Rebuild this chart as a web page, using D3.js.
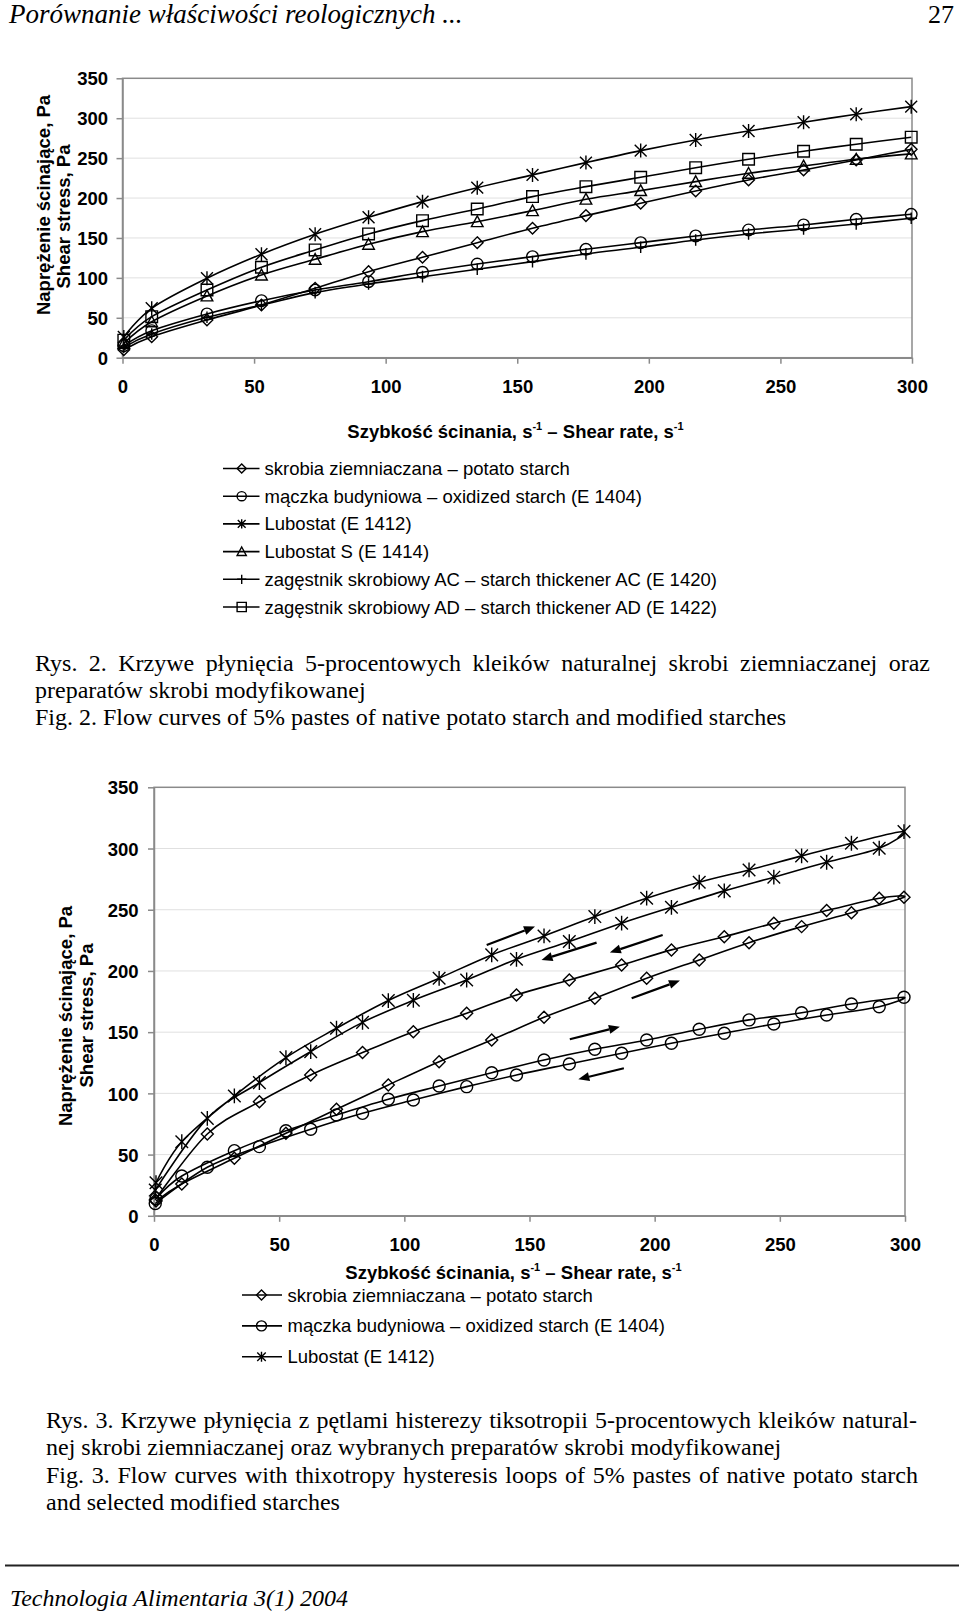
<!DOCTYPE html>
<html><head><meta charset="utf-8">
<script src="https://cdn.jsdelivr.net/npm/d3@7"></script>
<style>body{margin:0;background:#fff}svg{display:block}</style>
</head><body>
<script>
// ---------------- DATA ----------------
const headerTitle = "Porównanie właściwości reologicznych ...";
const pageNumber = "27";
const footerText = "Technologia Alimentaria 3(1) 2004";

const xTicks = [0, 50, 100, 150, 200, 250, 300];
const yTicks = [0, 50, 100, 150, 200, 250, 300, 350];

// Fig. 2 – shear rate (s-1)
const c1X = [0.5, 11.1, 32.1, 52.8, 73.2, 93.5, 114, 134.8, 155.8, 176.1, 196.9, 217.8, 237.9, 258.8, 278.8, 299.7];
const c1Potato = [10, 26.3, 47.2, 66, 87, 107.8, 125.8, 144.1, 162.2, 178, 193.5, 208.9, 222.7, 235.2, 247.7, 261];
const c1Oxidized = [15, 33.8, 54.8, 71.4, 84.8, 95.2, 107, 117.4, 126.6, 135.8, 144.1, 152.5, 160, 166.3, 173.4, 179.7];
const c1Lubostat = [26, 61.9, 99.5, 129.6, 154.6, 175.9, 195.5, 213, 229, 244.4, 259.4, 272.8, 284, 295, 305, 314.5];
const c1LubostatS = [18, 45, 77.3, 103.6, 123.3, 142.1, 157.9, 170.4, 184.2, 198.5, 209.3, 220.6, 231, 240.2, 248.6, 255.3];
const c1ThickAC = [13, 29.7, 50.6, 66, 81.5, 92.4, 101.5, 110.8, 120.3, 130, 138.3, 147.5, 155, 161.3, 167.5, 174.7];
const c1ThickAD = [22, 51.4, 84.8, 113.3, 135, 155, 171.7, 186.3, 201.8, 214.3, 226, 238, 248.6, 258.6, 267.4, 276.2];
const c1Labels = [
  "skrobia ziemniaczana – potato starch",
  "mączka budyniowa – oxidized starch (E 1404)",
  "Lubostat (E 1412)",
  "Lubostat S (E 1414)",
  "zagęstnik skrobiowy AC – starch thickener AC (E 1420)",
  "zagęstnik skrobiowy AD – starch thickener AD (E 1422)"
];
const c1Markers = ["diamond", "circle", "star", "triangle", "plus", "square"];

// Fig. 3 – hysteresis loops: up curve then down curve
const c2UpX = [0.8, 11.1, 32.1, 52.7, 72.9, 93.6, 113.9, 134.9, 155.8, 176.1, 196.8, 217.8, 237.7, 258.7, 278.6, 299.6];
const c2DownX = [289.7, 268.7, 247.6, 227.8, 206.7, 186.8, 165.9, 144.8, 124.9, 103.6, 83.3, 62.6, 42.1, 21.3, 0.5];
const c2PotatoUp = [12, 26, 47, 67.4, 87, 106.9, 125.9, 143.6, 162.2, 177.7, 194, 209, 223.1, 236.2, 247.6, 260.2];
const c2PotatoDown = [259.4, 249.3, 239, 228, 217.2, 204.9, 192.6, 180.4, 165.4, 150.4, 133.3, 115, 93.2, 66.8, 13];
const c2OxidizedUp = [14, 32.5, 53.2, 69.5, 82.4, 95.2, 106, 116.9, 127.3, 136, 143.6, 152.4, 160, 165.9, 173, 178.5];
const c2OxidizedDown = [170.8, 164, 156.7, 149.1, 140.9, 132.8, 124, 115, 105.5, 94.6, 83.7, 70.7, 56.5, 39.6, 10];
const c2LubostatUp = [27, 60.5, 97.9, 129.2, 153.2, 175.8, 194, 213.1, 228.6, 244.4, 259.4, 272.5, 282.5, 294, 304.3, 313.8];
const c2LubostatDown = [300.2, 288.8, 276.6, 265.4, 252, 239, 224, 209.5, 192.6, 176, 158, 134.1, 108.8, 79.6, 21];
const c2Labels = [
  "skrobia ziemniaczana – potato starch",
  "mączka budyniowa – oxidized starch (E 1404)",
  "Lubostat (E 1412)"
];
const c2Markers = ["diamond", "circle", "star"];

// direction arrows of Fig. 3 (data units: start -> end)
const arrowX1 = [132.9, 176.8, 203.2, 190.8, 166.1, 187.7];
const arrowY1 = [221.2, 223.1, 229.4, 177.7, 144.2, 120.5];
const arrowX2 = [152.2, 154.8, 182.1, 210.1, 186.1, 169.5];
const arrowY2 = [236.2, 209.0, 215.0, 192.1, 154.5, 111.5];

const yTitle1 = "Naprężenie ścinające, Pa";
const yTitle2 = "Shear stress, Pa";
const xTitleA = "Szybkość ścinania, s";
const xTitleB = " – Shear rate, s";
const xTitleSup = "-1";

const caption1 = [
  "Rys. 2. Krzywe płynięcia 5-procentowych kleików naturalnej skrobi ziemniaczanej oraz",
  "preparatów skrobi modyfikowanej",
  "Fig. 2. Flow curves of 5% pastes of native potato starch and modified starches"
];
const caption2 = [
  "Rys. 3. Krzywe płynięcia z pętlami histerezy tiksotropii 5-procentowych kleików natural-",
  "nej skrobi ziemniaczanej oraz wybranych preparatów skrobi modyfikowanej",
  "Fig. 3. Flow curves with thixotropy hysteresis loops of 5% pastes of native potato starch",
  "and selected modified starches"
];

// ---------------- DRAWING ----------------
const W = 960, H = 1614;
const SANS = "'Liberation Sans', Arial, sans-serif";
const SERIF = "'Liberation Serif', 'Times New Roman', serif";
const AXIS = "#8a8a8a";

const svg = d3.select("body").append("svg").attr("width", W).attr("height", H);
svg.append("rect").attr("width", W).attr("height", H).attr("fill", "#fff");

function markerPath(type, r) {
  switch (type) {
    case "diamond": return `M0,${-r}L${r},0L0,${r}L${-r},0Z`;
    case "circle": return `M${r},0A${r},${r} 0 1,1 ${-r},0A${r},${r} 0 1,1 ${r},0Z`;
    case "square": return `M${-r},${-r}H${r}V${r}H${-r}Z`;
    case "triangle": return `M0,${-r}L${r},${r * 0.85}L${-r},${r * 0.85}Z`;
    case "plus": return `M0,${-r}V${r}M${-r},0H${r}`;
    case "star": { const d = r * 0.85; return `M0,${-r}V${r}M${-d},${-d}L${d},${d}M${-d},${d}L${d},${-d}`; }
  }
}

// header
svg.append("text").attr("x", 9).attr("y", 23).attr("font-family", SERIF).attr("font-style", "italic")
  .attr("font-size", 27).text(headerTitle);
svg.append("text").attr("x", 954).attr("y", 23).attr("text-anchor", "end").attr("font-family", SERIF)
  .attr("font-size", 26).text(pageNumber);

function drawFrame(g, x, y, xPad, yPad) {
  g.append("g").selectAll("line").data(yTicks.filter(v => v > 0 && v < 350)).join("line")
    .attr("x1", x(0)).attr("x2", x(300)).attr("y1", d => y(d)).attr("y2", d => y(d))
    .attr("stroke", "#e0e0e0").attr("stroke-width", 1);
  g.append("rect").attr("x", x(0)).attr("y", y(350)).attr("width", x(300) - x(0)).attr("height", y(0) - y(350))
    .attr("fill", "none").attr("stroke", AXIS).attr("stroke-width", 1.5);
  const ax = g.append("g").attr("transform", `translate(0,${y(0)})`)
    .call(d3.axisBottom(x).tickValues(xTicks).tickSize(6).tickPadding(xPad).tickSizeOuter(0));
  const ay = g.append("g").attr("transform", `translate(${x(0)},0)`)
    .call(d3.axisLeft(y).tickValues(yTicks).tickSize(6).tickPadding(yPad).tickSizeOuter(0));
  [ax, ay].forEach(a => {
    a.select(".domain").attr("stroke", AXIS).attr("stroke-width", 1.5);
    a.selectAll(".tick line").attr("stroke", AXIS).attr("stroke-width", 1.5);
    a.selectAll("text").attr("font-family", SANS).attr("font-size", 18.5).attr("font-weight", "bold").attr("fill", "#000");
  });
  ay.selectAll("text").attr("dy", "0.36em");
}

function drawSeries(g, x, y, xs, ys, type, r) {
  const pts = xs.map((v, i) => [v, ys[i]]);
  const line = d3.line().x(d => x(d[0])).y(d => y(d[1])).curve(d3.curveCardinal.tension(0));
  g.append("path").attr("d", line(pts)).attr("fill", "none").attr("stroke", "#000").attr("stroke-width", 1.6);
  g.append("g").selectAll("path").data(pts).join("path")
    .attr("transform", d => `translate(${x(d[0])},${y(d[1])})`)
    .attr("d", markerPath(type, r)).attr("fill", "none").attr("stroke", "#000").attr("stroke-width", 1.4);
}

function yTitle(g, b1, c1, b2, c2) {
  g.append("text").attr("transform", `translate(${b1},${c1}) rotate(-90)`).attr("text-anchor", "middle")
    .attr("font-family", SANS).attr("font-size", 18.5).attr("font-weight", "bold").text(yTitle1);
  g.append("text").attr("transform", `translate(${b2},${c2}) rotate(-90)`).attr("text-anchor", "middle")
    .attr("font-family", SANS).attr("font-size", 18.5).attr("font-weight", "bold").text(yTitle2);
}

function xTitle(g, cx, base) {
  const t = g.append("text").attr("x", cx).attr("y", base).attr("text-anchor", "middle")
    .attr("font-family", SANS).attr("font-size", 18.5).attr("font-weight", "bold");
  t.append("tspan").text(xTitleA);
  t.append("tspan").attr("font-size", 11).attr("dy", -8).text(xTitleSup);
  t.append("tspan").attr("dy", 8).text(xTitleB);
  t.append("tspan").attr("font-size", 11).attr("dy", -8).text(xTitleSup);
}

function legend(g, labels, markers, x1, x2, xm, xt, y0, dy, r) {
  labels.forEach((lab, i) => {
    const yy = y0 + i * dy;
    g.append("line").attr("x1", x1).attr("x2", x2).attr("y1", yy).attr("y2", yy).attr("stroke", "#000").attr("stroke-width", 1.6);
    g.append("path").attr("transform", `translate(${xm},${yy})`).attr("d", markerPath(markers[i], r))
      .attr("fill", "none").attr("stroke", "#000").attr("stroke-width", 1.4);
    g.append("text").attr("x", xt).attr("y", yy + 6.5).attr("font-family", SANS).attr("font-size", 18.5).text(lab);
  });
}

function caption(lines, x0, y0, dy, justify) {
  lines.forEach((s, i) => {
    const t = svg.append("text").attr("x", x0).attr("y", y0 + i * dy).attr("font-family", SERIF)
      .attr("font-size", 24).text(s);
    if (justify[i]) {
      const w = t.node().getComputedTextLength();
      const n = (s.match(/ /g) || []).length;
      if (n > 0) t.attr("word-spacing", (justify[i] - w) / n);
    }
  });
}

// ---------- Chart 1 ----------
const x1 = d3.scaleLinear().domain([0, 300]).range([122.5, 912]);
const y1 = d3.scaleLinear().domain([0, 350]).range([357.7, 78.3]);
const g1 = svg.append("g");
drawFrame(g1, x1, y1, 16.5, 8.5);
const c1Series = [c1Potato, c1Oxidized, c1Lubostat, c1LubostatS, c1ThickAC, c1ThickAD];
c1Series.forEach((ys, i) => drawSeries(g1, x1, y1, c1X, ys, c1Markers[i], c1Markers[i] === "star" ? 7 : 5.8));
yTitle(g1, 50, 205, 70, 216.5);
xTitle(g1, 515.5, 437.5);
legend(g1, c1Labels, c1Markers, 223, 259.5, 241.7, 264.5, 468.5, 27.7, 4.6);
caption(caption1, 35, 671, 27, [895, 0, 0]);

// ---------- Chart 2 ----------
const x2 = d3.scaleLinear().domain([0, 300]).range([154, 905]);
const y2 = d3.scaleLinear().domain([0, 350]).range([1215.8, 787.3]);
const g2 = svg.append("g");
drawFrame(g2, x2, y2, 16, 9.5);
const c2X = c2UpX.concat(c2DownX);
const c2Series = [c2PotatoUp.concat(c2PotatoDown), c2OxidizedUp.concat(c2OxidizedDown), c2LubostatUp.concat(c2LubostatDown)];
c2Series.forEach((ys, i) => drawSeries(g2, x2, y2, c2X, ys, c2Markers[i], c2Markers[i] === "star" ? 7.4 : 6));
// arrows
arrowX1.forEach((_, i) => {
  const ax1 = x2(arrowX1[i]), ay1 = y2(arrowY1[i]), ax2 = x2(arrowX2[i]), ay2 = y2(arrowY2[i]);
  const ang = Math.atan2(ay2 - ay1, ax2 - ax1);
  const L = 11, hw = 4.5;
  const bx = ax2 - L * Math.cos(ang), by = ay2 - L * Math.sin(ang);
  g2.append("line").attr("x1", ax1).attr("y1", ay1).attr("x2", bx).attr("y2", by).attr("stroke", "#000").attr("stroke-width", 2.2);
  const p1 = [bx + hw * Math.sin(ang), by - hw * Math.cos(ang)];
  const p2 = [bx - hw * Math.sin(ang), by + hw * Math.cos(ang)];
  g2.append("path").attr("d", `M${ax2},${ay2}L${p1[0]},${p1[1]}L${p2[0]},${p2[1]}Z`).attr("fill", "#000");
});
yTitle(g2, 71.7, 1016, 93.3, 1015.5);
xTitle(g2, 513.5, 1278.5);
legend(g2, c2Labels, c2Markers, 242, 282, 261.5, 287.5, 1295, 30.9, 5);
caption(caption2, 46, 1428, 27.3, [871, 0, 872, 0]);

// footer
svg.append("line").attr("x1", 5).attr("x2", 959).attr("y1", 1565.5).attr("y2", 1565.5).attr("stroke", "#222").attr("stroke-width", 2);
svg.append("text").attr("x", 10).attr("y", 1606).attr("font-family", SERIF).attr("font-style", "italic")
  .attr("font-size", 24).text(footerText);
</script>
</body></html>
